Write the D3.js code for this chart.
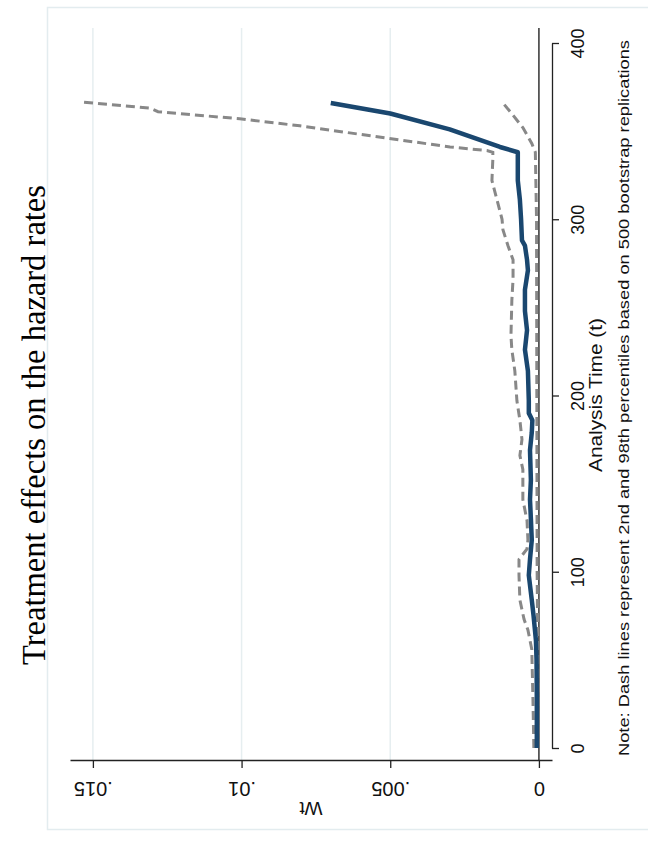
<!DOCTYPE html>
<html>
<head>
<meta charset="utf-8">
<script src="https://cdn.jsdelivr.net/npm/d3@7"></script>
<style>
  body { margin: 0; background: #fff; }
</style>
</head>
<body>
<div id="chart"></div>
<script>
// tick labels
var timeTicks = [0, 100, 200, 300, 400];
var effectTicks = [0, 0.005, 0.01, 0.015];
var effectTickLabels = ["0", ".005", ".01", ".015"];

// point estimate (solid line)
var estTime = [0, 27, 50, 61, 75, 84, 98, 107, 118, 130, 141, 152, 169, 179, 186, 190, 197, 214, 226, 237, 248, 260, 271, 277, 285, 288, 300, 311, 322, 338, 341, 351, 360, 366];
var estValue = [0.00007, 0.00007, 0.00008, 0.0001, 0.00018, 0.00024, 0.00034, 0.0003, 0.00024, 0.00027, 0.0003, 0.00027, 0.0003, 0.00024, 0.00022, 0.00034, 0.00034, 0.00037, 0.00047, 0.0004, 0.00047, 0.00047, 0.00037, 0.0004, 0.00047, 0.00057, 0.0006, 0.00064, 0.00071, 0.00071, 0.00131, 0.003, 0.005, 0.007];

// 98th percentile (upper dashed line)
var upTime = [0, 27, 56, 67, 73, 84, 98, 107, 113, 118, 129, 141, 158, 166, 175, 186, 197, 214, 226, 234, 254, 266, 277, 285, 294, 300, 311, 322, 334, 338, 339, 341, 345, 349, 353, 357, 361, 363, 366.5];
var upValue = [0.00017, 0.0002, 0.00024, 0.00037, 0.0005, 0.00064, 0.00067, 0.00067, 0.0004, 0.00037, 0.0004, 0.00054, 0.00054, 0.00064, 0.00057, 0.00064, 0.00074, 0.00081, 0.00091, 0.00094, 0.00091, 0.00087, 0.00087, 0.00104, 0.00121, 0.00124, 0.00141, 0.00158, 0.00155, 0.00155, 0.00175, 0.00299, 0.00467, 0.00636, 0.00804, 0.01006, 0.01281, 0.01308, 0.01537];

// 2nd percentile (lower dashed line)
var lowTime = [0, 60, 100, 200, 300, 338, 343, 352, 359, 366];
var lowValue = [0.00004, 0.00004, 0.00006, 0.00007, 0.00008, 0.00012, 0.00024, 0.00054, 0.00087, 0.00121];

var plotTop = 28, plotBottom = 760;

var svg = d3.select("#chart")
  .append("svg")
  .attr("width", 648)
  .attr("height", 845)
  .style("font-family", "Arial, 'Liberation Sans', sans-serif");

// outer frame
svg.append("rect")
  .attr("x", 47.5).attr("y", 7.5)
  .attr("width", 610).attr("height", 822)
  .attr("fill", "none")
  .attr("stroke", "#e3ecef")
  .attr("stroke-width", 1.5);

// time runs up the page, effect runs right to left
var y = d3.scaleLinear().domain([0, 400]).range([748, 43]);
var x = d3.scaleLinear().domain([-0.00044, 0.01577]).range([552, 70]);

// gridlines
svg.selectAll(".grid")
  .data(effectTicks.filter(function (d) { return d > 0; }))
  .enter()
  .append("line")
  .attr("class", "grid")
  .attr("x1", function (d) { return x(d); })
  .attr("x2", function (d) { return x(d); })
  .attr("y1", plotTop)
  .attr("y2", plotBottom)
  .attr("stroke", "#e6eef0")
  .attr("stroke-width", 1.5);

// zero line
svg.append("line")
  .attr("x1", x(0)).attr("x2", x(0))
  .attr("y1", plotTop).attr("y2", plotBottom)
  .attr("stroke", "#333")
  .attr("stroke-width", 1.5);

function pairs(ts, vs) {
  return ts.map(function (t, i) { return { t: t, v: vs[i] }; });
}

var line = d3.line()
  .x(function (d) { return x(d.v); })
  .y(function (d) { return y(d.t); });

svg.append("path")
  .datum(pairs(lowTime, lowValue))
  .attr("fill", "none")
  .attr("stroke", "#888")
  .attr("stroke-width", 3)
  .attr("stroke-dasharray", "9,5")
  .attr("d", line);

svg.append("path")
  .datum(pairs(upTime, upValue))
  .attr("fill", "none")
  .attr("stroke", "#888")
  .attr("stroke-width", 3)
  .attr("stroke-dasharray", "9,5")
  .attr("d", line);

svg.append("path")
  .datum(pairs(estTime, estValue))
  .attr("fill", "none")
  .attr("stroke", "#1a476f")
  .attr("stroke-width", 4.5)
  .attr("stroke-linejoin", "round")
  .attr("d", line);

// time axis (right side)
var tAxis = svg.append("g")
  .attr("transform", "translate(552,0)")
  .call(d3.axisRight(y).tickValues(timeTicks).tickSize(7).tickSizeOuter(0).tickFormat(d3.format("d")));
tAxis.select(".domain").attr("stroke", "#222").attr("stroke-width", 1.3);
tAxis.selectAll(".tick line").attr("stroke", "#222").attr("stroke-width", 1.3);
tAxis.selectAll(".tick text")
  .attr("x", 0).attr("y", 0).attr("dy", "0.35em")
  .attr("transform", "translate(26,0) rotate(-90)")
  .attr("text-anchor", "middle")
  .attr("font-family", "Arial, 'Liberation Sans', sans-serif")
  .attr("font-size", 18)
  .attr("fill", "#111");

// effect axis (bottom, labels upside down)
var eAxis = svg.append("g")
  .attr("transform", "translate(0," + plotBottom + ")")
  .call(d3.axisBottom(x).tickValues(effectTicks).tickSize(8).tickSizeOuter(0)
    .tickFormat(function (d, i) { return effectTickLabels[i]; }));
eAxis.select(".domain").attr("stroke", "#222").attr("stroke-width", 1.3);
eAxis.selectAll(".tick line").attr("stroke", "#222").attr("stroke-width", 1.3);
eAxis.selectAll(".tick text")
  .attr("x", 0).attr("y", 0).attr("dy", "0.35em")
  .attr("transform", "translate(0,29) rotate(180)")
  .attr("text-anchor", "middle")
  .attr("font-family", "Arial, 'Liberation Sans', sans-serif")
  .attr("font-size", 20)
  .attr("fill", "#111");

// axis titles
svg.append("text")
  .attr("transform", "translate(311,809) rotate(180)")
  .attr("dy", "0.35em")
  .attr("text-anchor", "middle")
  .attr("font-size", 19)
  .attr("fill", "#111")
  .text("Wt");

svg.append("text")
  .attr("transform", "translate(602,395) rotate(-90)")
  .attr("text-anchor", "middle")
  .attr("font-size", 18)
  .attr("textLength", 154)
  .attr("lengthAdjust", "spacingAndGlyphs")
  .attr("fill", "#111")
  .text("Analysis Time (t)");

svg.append("text")
  .attr("transform", "translate(629,398) rotate(-90)")
  .attr("text-anchor", "middle")
  .attr("font-size", 15)
  .attr("textLength", 716)
  .attr("lengthAdjust", "spacingAndGlyphs")
  .attr("fill", "#111")
  .text("Note: Dash lines represent 2nd and 98th percentiles based on 500 bootstrap replications");

// title
svg.append("text")
  .attr("transform", "translate(45,425) rotate(-90)")
  .attr("text-anchor", "middle")
  .attr("font-family", "'Liberation Serif', 'Times New Roman', serif")
  .attr("font-size", 34)
  .attr("textLength", 480)
  .attr("lengthAdjust", "spacingAndGlyphs")
  .attr("fill", "#000")
  .text("Treatment effects on the hazard rates");
</script>
</body>
</html>
